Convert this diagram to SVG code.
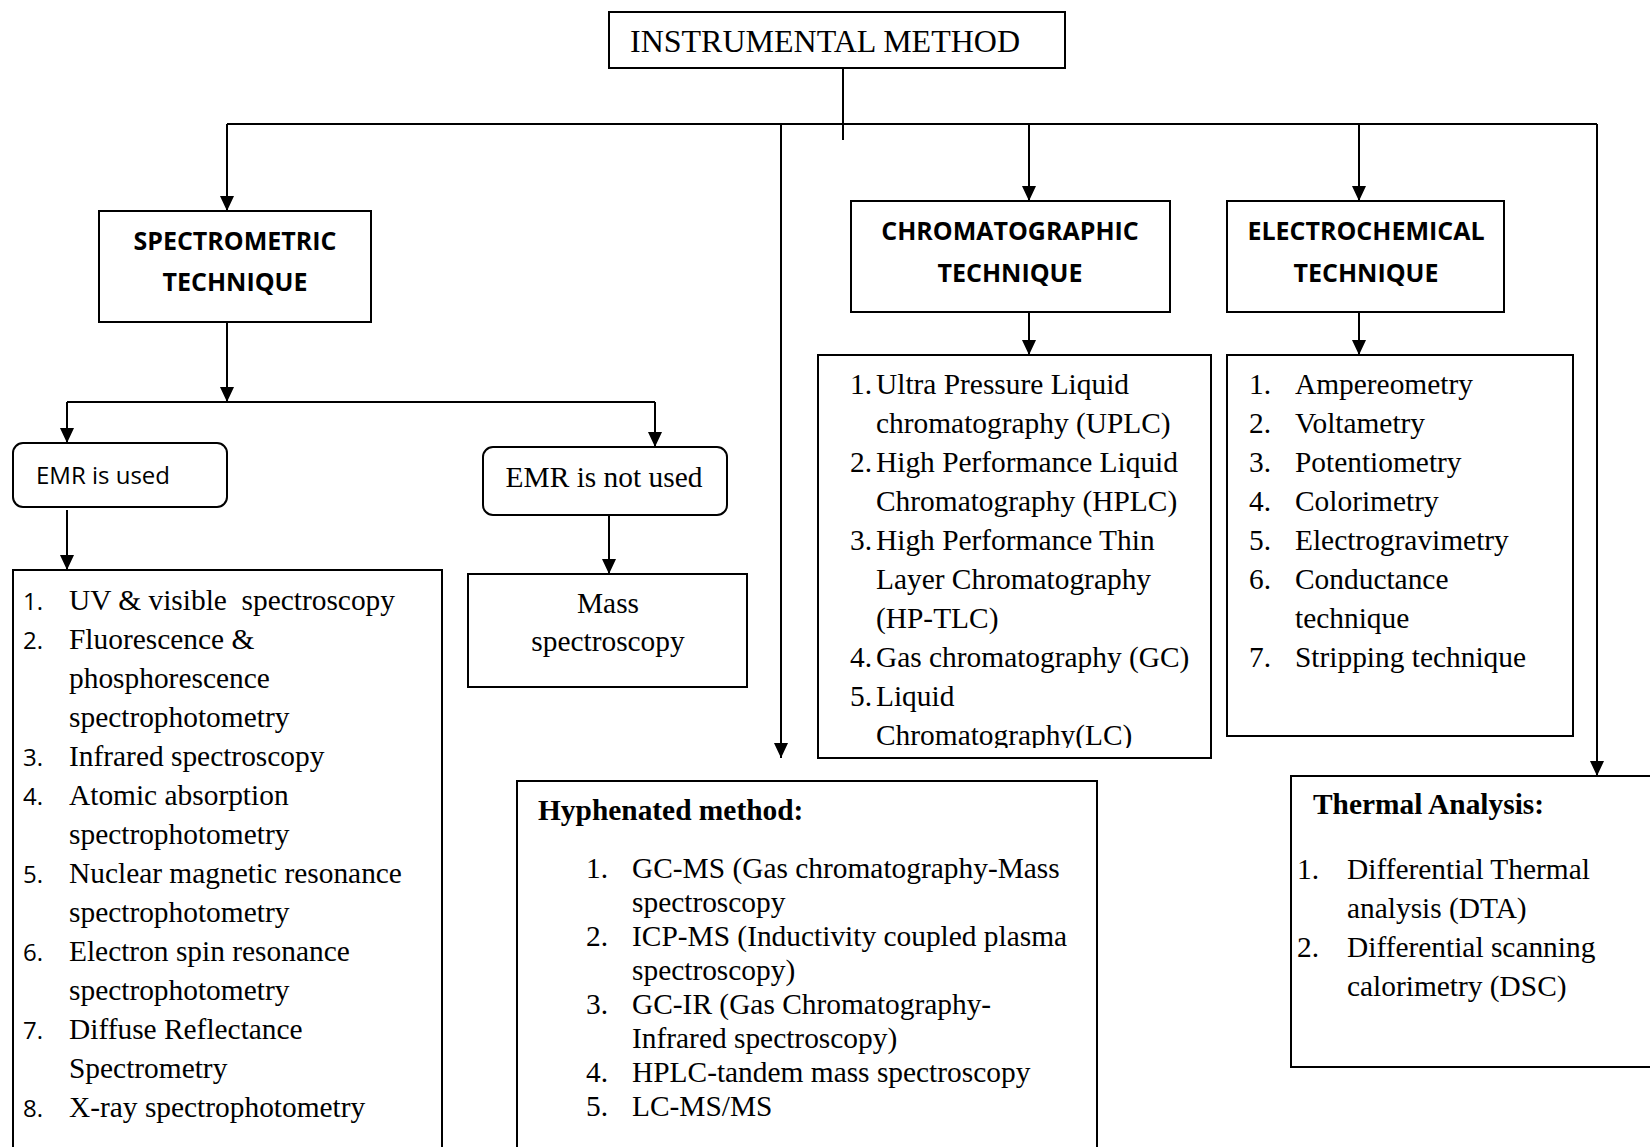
<svg xmlns="http://www.w3.org/2000/svg" width="1650" height="1147" viewBox="0 0 1650 1147">
<defs>
<marker id="arr" markerUnits="userSpaceOnUse" markerWidth="16" markerHeight="14" refX="15" refY="7" orient="auto">
<path d="M0,0 L15,7 L0,14 z" fill="#000"/>
</marker>
<clipPath id="chromClip"><rect x="818" y="355" width="393" height="393"/></clipPath>
</defs>
<style>
.box{fill:#fff;stroke:#000;stroke-width:2}
.con{fill:none;stroke:#000;stroke-width:2}
.arr{marker-end:url(#arr)}
.t{font-family:"Liberation Serif","Times New Roman",serif;font-size:29.4px;fill:#000}
.tb{font-family:"Liberation Serif","Times New Roman",serif;font-size:29.4px;font-weight:bold;fill:#000}
.h{font-family:"Open Sans","Noto Sans",sans-serif;font-size:25px;font-weight:bold;fill:#000;text-anchor:middle}
.s{font-family:"Open Sans","Noto Sans",sans-serif;font-size:24px;fill:#000}
.n{font-family:"Open Sans","Noto Sans",sans-serif;font-size:24px;fill:#000}
</style>
<rect width="1650" height="1147" fill="#fff"/>

<g id="connectors">
<path class="con" d="M843,68 V140"/>
<path class="con" d="M227,124 H1597"/>
<path class="con arr" d="M227,124 V211"/>
<path class="con arr" d="M781,124 V758"/>
<path class="con arr" d="M1029,124 V201"/>
<path class="con arr" d="M1359,124 V201"/>
<path class="con arr" d="M1597,124 V776"/>
<path class="con arr" d="M227,322 V402"/>
<path class="con" d="M67,402 H655"/>
<path class="con arr" d="M67,402 V443"/>
<path class="con arr" d="M655,402 V447"/>
<path class="con arr" d="M67,510 V570"/>
<path class="con arr" d="M609,510 V574"/>
<path class="con arr" d="M1029,312 V355"/>
<path class="con arr" d="M1359,312 V355"/>
</g>

<g id="instrumental">
<rect class="box" x="609" y="12" width="456" height="56"/>
<text class="t" x="630" y="52" style="font-size:32px">INSTRUMENTAL METHOD</text>
</g>

<g id="spectrometric">
<rect class="box" x="99" y="211" width="272" height="111"/>
<text class="h" x="235" y="250">SPECTROMETRIC</text>
<text class="h" x="235" y="291">TECHNIQUE</text>
</g>

<g id="chromatographic">
<rect class="box" x="851" y="201" width="319" height="111"/>
<text class="h" x="1010" y="240">CHROMATOGRAPHIC</text>
<text class="h" x="1010" y="282">TECHNIQUE</text>
</g>

<g id="electrochemical">
<rect class="box" x="1227" y="201" width="277" height="111"/>
<text class="h" x="1366" y="240">ELECTROCHEMICAL</text>
<text class="h" x="1366" y="282">TECHNIQUE</text>
</g>

<g id="emr-used">
<rect class="box" x="13" y="443" width="214" height="64" rx="10"/>
<text class="s" x="36" y="484">EMR is used</text>
</g>

<g id="emr-not-used">
<rect class="box" x="483" y="447" width="244" height="68" rx="10"/>
<text class="t" x="604" y="487" text-anchor="middle">EMR is not used</text>
</g>

<g id="mass">
<rect class="box" x="468" y="574" width="279" height="113"/>
<text class="t" x="608" y="613" text-anchor="middle">Mass</text>
<text class="t" x="608" y="651" text-anchor="middle">spectroscopy</text>
</g>

<g id="emr-list">
<rect class="box" x="13" y="570" width="429" height="600"/>
<g class="n">
<text x="23" y="610">1.</text>
<text x="23" y="649">2.</text>
<text x="23" y="766">3.</text>
<text x="23" y="805">4.</text>
<text x="23" y="883">5.</text>
<text x="23" y="961">6.</text>
<text x="23" y="1039">7.</text>
<text x="23" y="1117">8.</text>
</g>
<g class="t">
<text x="69" y="610" style="white-space:pre">UV &amp; visible  spectroscopy</text>
<text x="69" y="649">Fluorescence &amp;</text>
<text x="69" y="688">phosphorescence</text>
<text x="69" y="727">spectrophotometry</text>
<text x="69" y="766">Infrared spectroscopy</text>
<text x="69" y="805">Atomic absorption</text>
<text x="69" y="844">spectrophotometry</text>
<text x="69" y="883">Nuclear magnetic resonance</text>
<text x="69" y="922">spectrophotometry</text>
<text x="69" y="961">Electron spin resonance</text>
<text x="69" y="1000">spectrophotometry</text>
<text x="69" y="1039">Diffuse Reflectance</text>
<text x="69" y="1078">Spectrometry</text>
<text x="69" y="1117">X-ray spectrophotometry</text>
</g>
</g>

<g id="chrom-list">
<rect class="box" x="818" y="355" width="393" height="403"/>
<g class="t" clip-path="url(#chromClip)">
<text x="850" y="394">1.</text>
<text x="876" y="394">Ultra Pressure Liquid</text>
<text x="876" y="433">chromatography (UPLC)</text>
<text x="850" y="472">2.</text>
<text x="876" y="472">High Performance Liquid</text>
<text x="876" y="511">Chromatography (HPLC)</text>
<text x="850" y="550">3.</text>
<text x="876" y="550">High Performance Thin</text>
<text x="876" y="589">Layer Chromatography</text>
<text x="876" y="628">(HP-TLC)</text>
<text x="850" y="667">4.</text>
<text x="876" y="667">Gas chromatography (GC)</text>
<text x="850" y="706">5.</text>
<text x="876" y="706">Liquid</text>
<text x="876" y="745">Chromatography(LC)</text>
</g>
</g>

<g id="elec-list">
<rect class="box" x="1227" y="355" width="346" height="381"/>
<g class="t">
<text x="1249" y="394">1.</text>
<text x="1295" y="394">Ampereometry</text>
<text x="1249" y="433">2.</text>
<text x="1295" y="433">Voltametry</text>
<text x="1249" y="472">3.</text>
<text x="1295" y="472">Potentiometry</text>
<text x="1249" y="511">4.</text>
<text x="1295" y="511">Colorimetry</text>
<text x="1249" y="550">5.</text>
<text x="1295" y="550">Electrogravimetry</text>
<text x="1249" y="589">6.</text>
<text x="1295" y="589">Conductance</text>
<text x="1295" y="628">technique</text>
<text x="1249" y="667">7.</text>
<text x="1295" y="667">Stripping technique</text>
</g>
</g>

<g id="hyphenated">
<rect class="box" x="517" y="781" width="580" height="400"/>
<text class="tb" x="538" y="820">Hyphenated method:</text>
<g class="t">
<text x="586" y="878">1.</text>
<text x="632" y="878">GC-MS (Gas chromatography-Mass</text>
<text x="632" y="912">spectroscopy</text>
<text x="586" y="946">2.</text>
<text x="632" y="946">ICP-MS (Inductivity coupled plasma</text>
<text x="632" y="980">spectroscopy)</text>
<text x="586" y="1014">3.</text>
<text x="632" y="1014">GC-IR (Gas Chromatography-</text>
<text x="632" y="1048">Infrared spectroscopy)</text>
<text x="586" y="1082">4.</text>
<text x="632" y="1082">HPLC-tandem mass spectroscopy</text>
<text x="586" y="1116">5.</text>
<text x="632" y="1116">LC-MS/MS</text>
</g>
</g>

<g id="thermal">
<rect class="box" x="1291" y="776" width="400" height="291"/>
<text class="tb" x="1313" y="814">Thermal Analysis:</text>
<g class="t">
<text x="1297" y="879">1.</text>
<text x="1347" y="879">Differential Thermal</text>
<text x="1347" y="918">analysis (DTA)</text>
<text x="1297" y="957">2.</text>
<text x="1347" y="957">Differential scanning</text>
<text x="1347" y="996">calorimetry (DSC)</text>
</g>
</g>
</svg>
